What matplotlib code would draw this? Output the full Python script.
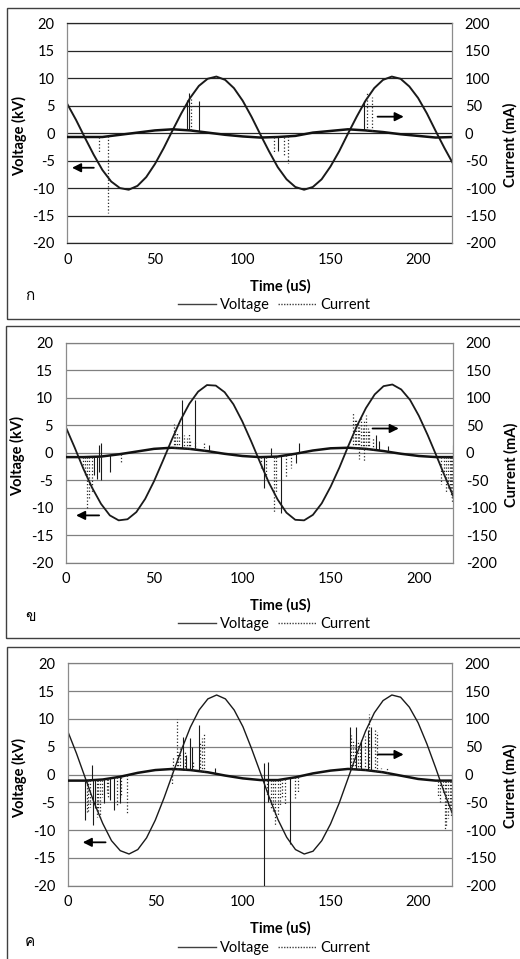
import numpy as np
import matplotlib
matplotlib.use('Agg')
import matplotlib.pyplot as plt
from matplotlib import font_manager
from matplotlib.ft2font import FT2Font
from matplotlib.lines import Line2D
from matplotlib.patches import Rectangle

plt.rcParams['font.family'] = ['Lato', 'DejaVu Sans']
plt.rcParams['axes.unicode_minus'] = False

# font for the thai panel letters
thai_family = 'DejaVu Sans'
for fe in font_manager.fontManager.ttflist:
    try:
        if 0x0E01 in FT2Font(fe.fname).get_charmap():
            thai_family = fe.name
            break
    except Exception:
        pass

# sample times (uS)
t_volt = np.arange(0, 221, 5)
t_base = np.arange(0, 221, 10)

# ---- panel ก ----
volt_a = [5.3, 2.4, -0.8, -3.9, -6.7, -8.8, -10.0, -10.3, -9.6, -8.0, -5.6, -2.7, 0.5, 3.6, 6.4,
          8.6, 9.9, 10.3, 9.7, 8.2, 5.9, 3.0, -0.2, -3.3, -6.2, -8.4, -9.8, -10.3, -9.8, -8.4,
          -6.1, -3.3, -0.1, 3.0, 5.9, 8.2, 9.7, 10.3, 9.9, 8.5, 6.4, 3.6, 0.4, -2.7, -5.6]
base_a = [-7, -7, -7, -3, 1, 5, 7, 5, 1, -3, -6, -8, -7, -5, 1, 4, 7, 5, 2, -2, -5, -8, -7]
solid_t_a = [68.0, 69.5, 74.9, 120.0, 169.4, 219.6]
solid_i_a = [61, 73, 58, -33, 58, -50]
dot_t_a = [18.2, 23.0, 70.3, 117.8, 123.5, 125.6, 170.8, 173.9]
dot_i_a = [-35, -146, 66, -37, -42, -55, 73, 66]

# ---- panel ข ----
volt_b = [4.7, 1.0, -2.9, -6.4, -9.3, -11.4, -12.3, -12.1, -10.8, -8.4, -5.2, -1.5, 2.3, 5.9, 8.9,
          11.1, 12.3, 12.2, 11.0, 8.8, 5.7, 2.1, -1.7, -5.4, -8.5, -10.9, -12.2, -12.3, -11.3, -9.2,
          -6.2, -2.7, 1.2, 4.9, 8.1, 10.6, 12.1, 12.4, 11.5, 9.6, 6.7, 3.2, -0.6, -4.5, -8.3]
base_b = [-8, -8, -7, -3, 2, 7, 9, 7, 3, -2, -6, -8, -7, -2, 4, 8, 9, 7, 3, -2, -6, -8, -8]
solid_t_b = [16.1, 17.6, 18.8, 19.1, 20.0, 20.2, 25.2, 65.9, 73.0, 81.0, 112.5, 116.0, 121.9,
             130.3, 132.4, 175.9, 177.2, 182.3, 219.5, 219.7]
solid_i_b = [-41, -47, 14, -35, 17, -50, -35, 96, 96, 14, -65, 8, -110,
             -19, 17, 32, 21, 12, 14, -98]
dot_t_b = [9.6, 10.9, 12.3, 13.4, 14.8, 31.4, 61.2, 62.1, 63.0, 64.0, 67.2, 68.7, 69.7, 70.6,
           73.5, 78.2, 110.4, 113.2, 117.9, 119.3, 124.6, 127.5, 162.8, 163.8, 164.5, 165.3,
           166.0, 166.3, 167.2, 168.2, 168.8, 169.1, 170.0, 171.0, 172.0, 173.8, 212.7, 214.0,
           215.5, 216.4, 217.4, 218.3, 219.0]
dot_i_b = [-28, -41, -100, -86, -71, -19, 53, 44, 38, 33, 32, 26, 35, 22,
           20, 17, -28, -47, -110, -71, -44, -28, 72, 62, 59, 56,
           -12, 50, 65, 44, -15, 60, 68, 45, 40, 29, -57, -41,
           -71, -65, -70, -80, -90]

# ---- panel ค ----
volt_c = [7.8, 3.8, -0.6, -5.0, -8.8, -11.9, -13.7, -14.3, -13.5, -11.4, -8.2, -4.2, 0.2, 4.5, 8.5,
          11.6, 13.6, 14.3, 13.6, 11.6, 8.6, 4.6, 0.3, -4.1, -8.1, -11.3, -13.5, -14.3, -13.8, -11.9,
          -8.9, -5.1, -0.7, 3.7, 7.8, 11.1, 13.3, 14.3, 13.9, 12.1, 9.3, 5.5, 1.2, -3.3, -7.4]
base_c = [-11, -11, -9, -4, 3, 8, 10, 8, 4, -2, -7, -10, -10, -5, 2, 7, 10, 8, 4, -2, -8, -11, -11]
solid_t_c = [9.9, 14.0, 14.3, 15.3, 20.7, 24.1, 26.2, 29.8, 66.0, 67.8, 69.7, 70.7, 74.7, 84.0,
             112.0, 112.2, 114.4, 114.6, 127.0, 161.0, 164.8, 167.6, 171.4, 173.3, 219.3]
solid_i_c = [-82, 17, -91, -61, -52, -45, -64, -52, 68, 35, 65, 50, 89, 12,
             20, -200, -49, 23, -125, 86, 86, 62, 80, 86, 5]
dot_t_c = [10.8, 11.4, 12.7, 16.5, 17.5, 18.4, 19.4, 22.2, 23.2, 27.9, 30.2, 33.6,
           59.8, 60.2, 62.4, 63.1, 64.1, 66.9, 71.6, 75.5, 76.8, 77.9,
           113.5, 116.0, 117.3, 118.3, 119.8, 121.1, 122.1, 124.0, 129.7, 131.6,
           161.9, 162.9, 163.8, 165.7, 166.7, 169.5, 172.2, 175.2, 176.8, 179.0, 182.0,
           211.4, 212.3, 214.2, 215.2, 216.1, 217.1, 218.0, 219.0]
dot_i_c = [-67, -70, -58, -76, -70, -80, -40, -34, -40, -55, -40, -70,
           -19, 32, 99, 41, 47, 40, 25, 59, 65, 73,
           -37, -61, -70, -93, -75, -55, -43, -55, -43, -34,
           71, 60, 53, 62, 47, 70, 108, 83, 77, 12, 12,
           -40, -49, -35, -100, -95, -79, -62, -76]

letters = ['ก', 'ข', 'ค']

panels = [
    dict(volt=volt_a, base=base_a, st=solid_t_a, si=solid_i_a, dt=dot_t_a, di=dot_i_a,
         rect=[67.3, 23.3, 452.3, 243.0], frame=[7, 8, 319], grid='#262626', vlw=1.4,
         larrow=(1.1, 16.7, -6.3), rarrow=(175.3, 193.4, 3.0), ylab=286, yleg=305, ylet=296),
    dict(volt=volt_b, base=base_b, st=solid_t_b, si=solid_i_b, dt=dot_t_b, di=dot_i_b,
         rect=[65.7, 342.7, 453.3, 562.7], frame=[6, 326, 638], grid='#808080', vlw=1.3,
         larrow=(4.3, 20.5, -11.4), rarrow=(172.2, 190.2, 4.4), ylab=605, yleg=624, ylet=617),
    dict(volt=volt_c, base=base_c, st=solid_t_c, si=solid_i_c, dt=dot_t_c, di=dot_i_c,
         rect=[67.7, 663.3, 452.3, 885.7], frame=[7, 647, 975], grid='#808080', vlw=1.0,
         larrow=(7.0, 23.2, -12.2), rarrow=(175.2, 193.3, 3.6), ylab=928, yleg=948, ylet=942),
]

W, H = 520.0, 959.0
FS = 10.5
fig = plt.figure(figsize=(5.2, 9.59), dpi=100)

for k, p in enumerate(panels):
    x0, y0, x1, y1 = p['rect']
    ax = fig.add_axes([x0 / W, 1 - y1 / H, (x1 - x0) / W, (y1 - y0) / H])
    ax2 = ax.twinx()

    ax.set_xlim(0, 219.5)
    ax.set_ylim(-20, 20)
    ax.set_xticks(range(0, 201, 50))
    ax.set_yticks(range(-20, 21, 5))
    ax2.set_ylim(-200, 200)
    ax2.set_yticks(range(-200, 201, 50))

    ax.grid(axis='y', color=p['grid'], lw=0.9)
    ax.set_axisbelow(True)
    ax.spines['top'].set_color(p['grid'])
    ax.spines['bottom'].set_color(p['grid'])
    ax.spines['left'].set_color('#8c8c8c')
    ax.spines['right'].set_visible(False)
    for s in ['top', 'bottom', 'left']:
        ax2.spines[s].set_visible(False)
    ax2.spines['right'].set_color('#8c8c8c')
    for sp in list(ax.spines.values()) + [ax2.spines['right']]:
        sp.set_linewidth(0.9)

    ax.tick_params(axis='y', length=0, labelsize=FS, pad=9)
    ax.tick_params(axis='x', length=0, labelsize=FS, pad=7)
    ax2.tick_params(axis='y', length=0, labelsize=FS, pad=9)

    ax.set_ylabel('Voltage (kV)', fontsize=FS, fontweight='bold')
    ax.yaxis.set_label_coords(-0.105, 0.485)
    ax2.set_ylabel('Current (mA)', fontsize=FS, fontweight='bold')
    ax2.yaxis.set_label_coords(1.132, 0.447)

    # voltage and current traces
    ax.plot(t_volt, p['volt'], color='#1a1a1a', lw=p['vlw'])
    ax2.plot(t_base, p['base'], color='#111111', lw=1.8)
    st = np.array(p['st'])
    dt = np.array(p['dt'])
    ax2.vlines(st, np.interp(st, t_base, p['base']), p['si'], colors='#1a1a1a', lw=0.8)
    ax2.vlines(dt, np.interp(dt, t_base, p['base']), p['di'], colors='#2a2a2a', lw=0.9,
               linestyles='dotted')

    # arrows pointing to the axes
    la, lb, lv = p['larrow']
    ax.annotate('', xy=(la, lv), xytext=(lb, lv),
                arrowprops=dict(arrowstyle='-|>', color='black', lw=1.3, mutation_scale=13))
    ra, rb, rv = p['rarrow']
    ax.annotate('', xy=(rb, rv), xytext=(ra, rv),
                arrowprops=dict(arrowstyle='-|>', color='black', lw=1.3, mutation_scale=13))

    fig.text(280 / W, 1 - p['ylab'] / H, 'Time (uS)', ha='center', va='center',
             fontsize=FS, fontweight='bold')
    fig.text(30 / W, 1 - p['ylet'] / H, letters[k], ha='center', va='center',
             fontsize=11, family=[thai_family, 'DejaVu Sans'])

    handles = [Line2D([], [], color='#404040', lw=1.0),
               Line2D([], [], color='#404040', lw=1.0, ls=(0, (1, 1)))]
    fig.legend(handles, ['Voltage', 'Current'], loc='center',
               bbox_to_anchor=(274 / W, 1 - p['yleg'] / H), ncol=2, frameon=False,
               fontsize=FS, handlelength=2.6, handletextpad=0.3, columnspacing=0.5,
               borderpad=0, borderaxespad=0)

    fx, ft, fb = p['frame']
    fig.add_artist(Rectangle((fx / W, 1 - fb / H), 540 / W, (fb - ft) / H,
                             transform=fig.transFigure, fill=False, ec='#404040', lw=1.0))

fig.savefig('out.png', dpi=100)
